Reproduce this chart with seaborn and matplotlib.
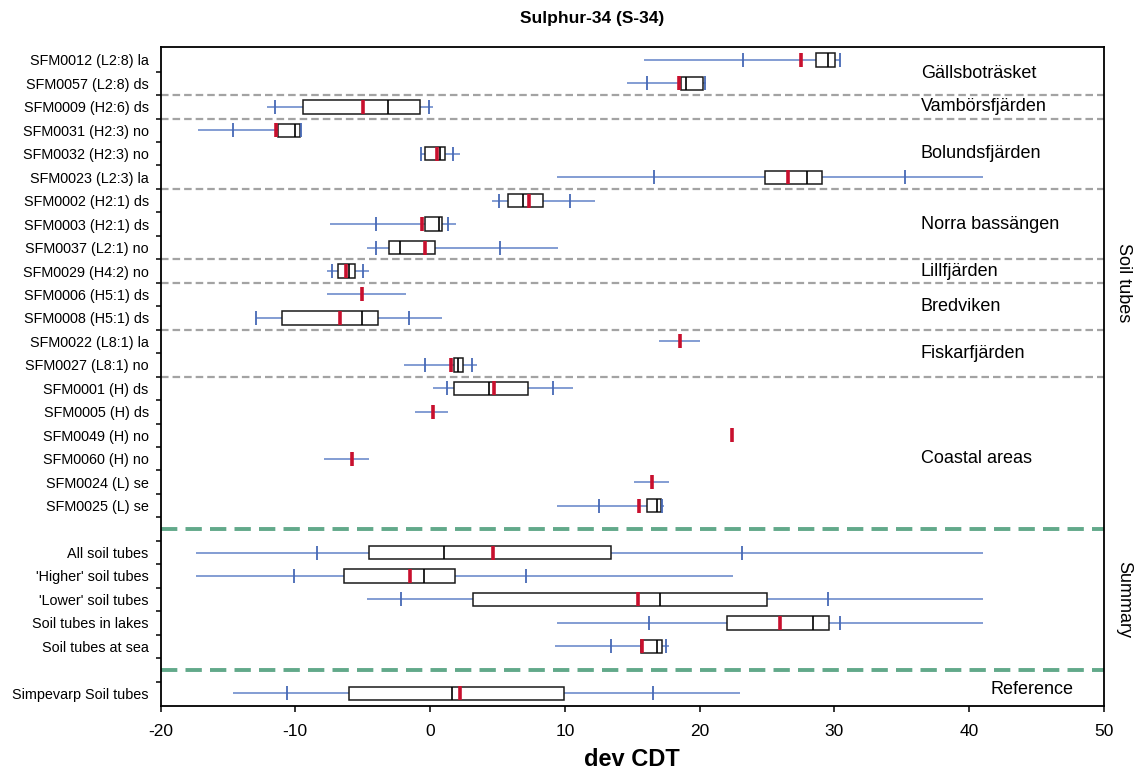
import numpy as np
import matplotlib
matplotlib.use("Agg")
import matplotlib.pyplot as plt
import matplotlib.transforms as mtransforms
import pandas as pd
import seaborn as sns

sns.set_theme(style="white")
plt.rcParams["font.family"] = ["Liberation Sans", "DejaVu Sans"]
plt.rcParams["axes.edgecolor"] = "black"
plt.rcParams["axes.unicode_minus"] = False
plt.rcParams["text.color"] = "black"
plt.rcParams["xtick.color"] = "black"
plt.rcParams["ytick.color"] = "black"
plt.rcParams["axes.labelcolor"] = "black"

# ---- data -------------------------------------------------------------
tube_labels = [
    "SFM0012 (L2:8) la", "SFM0057 (L2:8) ds", "SFM0009 (H2:6) ds",
    "SFM0031 (H2:3) no", "SFM0032 (H2:3) no", "SFM0023 (L2:3) la",
    "SFM0002 (H2:1) ds", "SFM0003 (H2:1) ds", "SFM0037 (L2:1) no",
    "SFM0029 (H4:2) no", "SFM0006 (H5:1) ds", "SFM0008 (H5:1) ds",
    "SFM0022 (L8:1) la", "SFM0027 (L8:1) no", "SFM0001 (H) ds",
    "SFM0005 (H) ds", "SFM0049 (H) no", "SFM0060 (H) no",
    "SFM0024 (L) se", "SFM0025 (L) se",
]
summary_labels = [
    "All soil tubes", "'Higher' soil tubes", "'Lower' soil tubes",
    "Soil tubes in lakes", "Soil tubes at sea",
]
reference_labels = ["Simpevarp Soil tubes"]

nan = np.nan
minimum = [15.9, 14.6, -12.1, -17.2, -0.7, 9.4, 4.6, -7.4, -4.65, -7.65,
           -7.65, -12.95, 17.0, -1.95, 0.25, -1.1, 22.3, -7.9, 15.1, 9.4,
           -17.4, -17.4, -4.65, 9.4, 9.25,
           -14.65]
p10 = [23.25, 16.1, -11.5, -14.65, -0.65, 16.6, 5.15, -4.0, -4.0, -7.25,
       nan, -12.9, nan, -0.35, 1.25, nan, nan, nan, nan, 12.5,
       -8.4, -10.1, -2.15, 16.25, 13.4,
       -10.65]
q1 = [28.65, 18.6, -9.4, -11.3, -0.4, 24.85, 5.8, -0.35, -3.05, -6.8,
      nan, -10.95, nan, 1.8, 1.8, nan, nan, nan, nan, 16.1,
      -4.55, -6.4, 3.15, 22.0, 15.65,
      -6.05]
median = [29.55, 19.0, -3.15, -10.05, 0.72, 28.0, 6.9, 0.65, -2.2, -6.0,
          nan, -5.05, nan, 2.1, 4.35, nan, nan, nan, nan, 16.85,
          1.0, -0.45, 17.05, 28.4, 16.8,
          1.6]
q3 = [30.05, 20.25, -0.75, -9.65, 1.12, 29.05, 8.4, 0.9, 0.35, -5.6,
      nan, -3.85, nan, 2.45, 7.3, nan, nan, nan, nan, 17.1,
      13.45, 1.85, 25.0, 29.6, 17.2,
      9.95]
p90 = [30.4, 20.4, -0.05, -9.6, 1.67, 35.25, 10.4, 1.35, 5.2, -5.0,
       nan, -1.55, nan, 3.1, 9.1, nan, nan, nan, nan, 17.2,
       23.15, 7.1, 29.55, 30.45, 17.5,
       16.55]
maximum = [30.45, 20.45, 0.25, -9.55, 2.2, 41.05, 12.2, 1.9, 9.5, -4.55,
           -1.75, 0.85, 20.05, 3.5, 10.6, 1.3, 22.45, -4.5, 17.75, 17.35,
           41.05, 22.5, 41.05, 41.05, 17.75,
           23.0]
mean = [27.5, 18.5, -4.95, -11.4, 0.55, 26.55, 7.35, -0.6, -0.35, -6.25,
        -5.05, -6.7, 18.55, 1.55, 4.75, 0.22, 22.38, -5.8, 16.45, 15.5,
        4.7, -1.5, 15.45, 25.95, 15.7,
        2.25]

group_names = ["Gällsboträsket", "Vambörsfjärden", "Bolundsfjärden",
               "Norra bassängen", "Lillfjärden", "Bredviken",
               "Fiskarfjärden", "Coastal areas"]
group_rows = [0.6, 2.0, 4.0, 7.0, 9.0, 10.5, 12.5, 17.0]
group_breaks = [1.5, 2.5, 5.5, 8.5, 9.5, 11.5, 13.5]
section_breaks = [20, 26]

# ---- layout of rows -----------------------------------------------------
labels = tube_labels + summary_labels + reference_labels
rows = list(range(20)) + list(range(21, 26)) + [27]

df = pd.DataFrame({
    "label": labels, "row": rows, "min": minimum, "p10": p10, "q1": q1,
    "median": median, "q3": q3, "p90": p90, "max": maximum, "mean": mean,
})

whisker_blue = "#7a95d0"
tick_blue = "#4769b5"
mean_red = "#c8102e"

fig = plt.figure(figsize=(11.37, 7.76), dpi=100)
ax = fig.add_axes([160.5 / 1137, 1 - 705.7 / 776,
                   (1104 - 160.5) / 1137, (705.7 - 47) / 776])

# whiskers: full range of each row
ax.hlines(df["row"], df["min"], df["max"], color=whisker_blue,
          linewidth=1.3, zorder=1)

# interquartile boxes with medians
boxed = df.dropna(subset=["q1"])
stats = [dict(med=r["median"], q1=r["q1"], q3=r["q3"],
              whislo=r["q1"], whishi=r["q3"], fliers=[], label=r["label"])
         for _, r in boxed.iterrows()]
ax.bxp(stats, positions=boxed["row"].tolist(), widths=0.57,
       orientation="horizontal", patch_artist=True, showcaps=False,
       showfliers=False, manage_ticks=False,
       boxprops=dict(facecolor="white", edgecolor="#1a1a1a", linewidth=1.1),
       medianprops=dict(color="black", linewidth=1.2),
       whiskerprops=dict(linewidth=0))

# 10th / 90th percentile ticks
pct = df.melt(id_vars=["row"], value_vars=["p10", "p90"],
              value_name="value").dropna()
sns.scatterplot(data=pct, x="value", y="row", marker="|", s=95,
                color=tick_blue, linewidth=1.3, ax=ax, legend=False,
                zorder=3)

# means
sns.scatterplot(data=df, x="mean", y="row", marker="|", s=95,
                color=mean_red, linewidth=2.6, ax=ax, legend=False,
                zorder=4)

# separators
for y in group_breaks:
    ax.axhline(y, color="#a3a3a3", linewidth=1.6,
               linestyle=(0, (3.4, 1.8)), zorder=0.5)
for y in section_breaks:
    ax.axhline(y, color="#62a98a", linewidth=2.8,
               linestyle=(0, (4.2, 2.1)), zorder=0.5)

# group names
for name, r in zip(group_names, group_rows):
    ax.text(36.4, r, name, fontsize=13, ha="left", va="center")
ax.text(41.6, 26.85, "Reference", fontsize=13, ha="left", va="center")

side = mtransforms.blended_transform_factory(ax.transAxes, ax.transData)
ax.text(1.021, 9.5, "Soil tubes", transform=side, rotation=270,
        fontsize=13, ha="center", va="center")
ax.text(1.021, 23.0, "Summary", transform=side, rotation=270,
        fontsize=13, ha="center", va="center")

# axes
ax.set_xlim(-20, 50)
ax.set_ylim(27.53, -0.55)
ax.set_xticks(range(-20, 51, 10))
ax.set_yticks(rows)
ax.set_yticklabels(labels)
ax.set_yticks(np.arange(0.5, 27, 1), minor=True)
ax.tick_params(axis="x", which="major", bottom=True, length=4.5, width=1.1,
               color="black", labelcolor="black", labelsize=12.5, pad=9)
ax.tick_params(axis="y", which="major", left=True, length=0, labelsize=10.4,
               labelcolor="black", pad=8.5)
ax.tick_params(axis="y", which="minor", left=True, length=3.6, width=1.1,
               color="black")
for s in ax.spines.values():
    s.set_color("black")
    s.set_linewidth(1.3)
ax.set_ylabel("")
ax.set_xlabel("")
ax.grid(False)

fig.text((160.5 + 1104) / 2 / 1137, 1 - 760 / 776, "dev CDT",
         fontsize=17, fontweight="bold", ha="center", va="center",
         color="black")
fig.text(592 / 1137, 1 - 18 / 776, "Sulphur-34 (S-34)",
         fontsize=12.5, fontweight="bold", ha="center", va="center",
         color="black")

fig.savefig("out.png", dpi=100)
